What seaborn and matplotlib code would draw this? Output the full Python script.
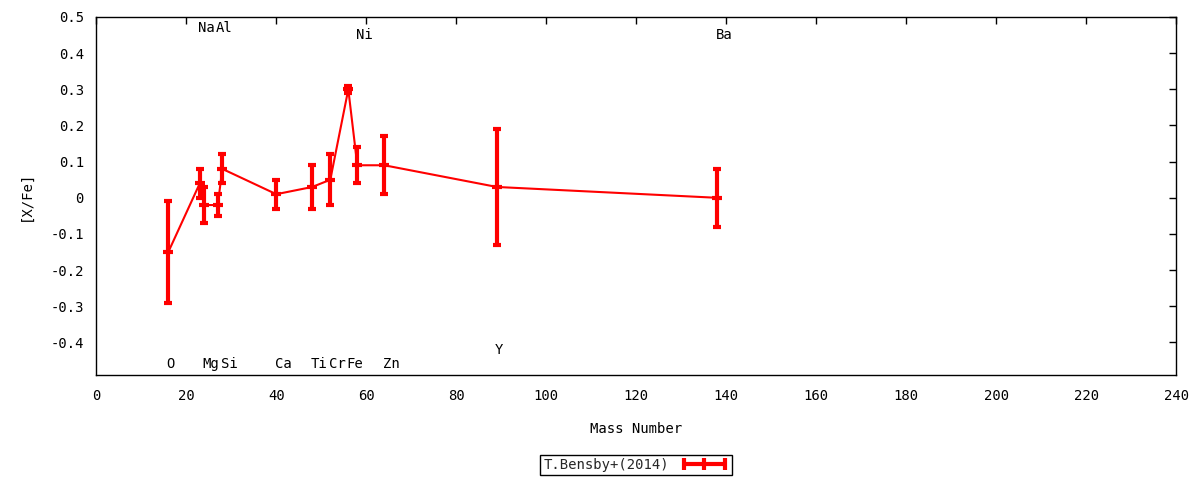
"""
[X/Fe] vs mass number, T.Bensby+(2014)
"""

import matplotlib
matplotlib.use("Agg")
import matplotlib.pyplot as plt
from matplotlib.lines import Line2D
from matplotlib.ticker import FuncFormatter, MultipleLocator
import pandas as pd
import seaborn as sns

# Data
elements = ['O', 'Na', 'Mg', 'Al', 'Si', 'Ca', 'Ti', 'Cr', 'Fe', 'Ni', 'Zn', 'Y', 'Ba']
mass_number = [16, 23, 24, 27, 28, 40, 48, 52, 56, 58, 64, 89, 138]
x_fe = [-0.15, 0.04, -0.02, -0.02, 0.08, 0.01, 0.03, 0.05, 0.30, 0.09, 0.09, 0.03, 0.00]
x_fe_err = [0.14, 0.04, 0.05, 0.03, 0.04, 0.04, 0.06, 0.07, 0.01, 0.05, 0.08, 0.16, 0.08]
label_y = [-0.46, 0.47, -0.46, 0.47, -0.46, -0.46, -0.46, -0.46, -0.46, 0.45, -0.46, -0.42, 0.45]
series_name = 'T.Bensby+(2014)'

df = pd.DataFrame({'mass': mass_number, 'xfe': x_fe, 'err': x_fe_err})

sns.set_style("white")
plt.rcParams['font.family'] = ['DejaVu Sans Mono', 'DejaVu Sans']
plt.rcParams['font.size'] = 10

fig = plt.figure(figsize=(12, 4.8), dpi=100)
ax = fig.add_axes([96.3 / 1200, 1 - 375 / 480, 1080 / 1200, 358 / 480])

# connecting line
sns.lineplot(data=df, x='mass', y='xfe', color='red', linewidth=1.5,
             sort=False, estimator=None, ax=ax, legend=False)
# error bars
ax.errorbar(df['mass'], df['xfe'], yerr=df['err'], fmt='none', ecolor='red',
            elinewidth=3, capsize=3, capthick=3)
# centre ticks
ax.plot(df['mass'], df['xfe'], linestyle='none', marker='_', color='red',
        markersize=7, markeredgewidth=3)

# element labels
for el, m, ly in zip(elements, mass_number, label_y):
    ax.text(m - 0.4, ly, el, ha='left', va='center', fontsize=10, color='black')

ax.set_xlim(0, 240)
ax.set_ylim(-0.49, 0.5)
ax.xaxis.set_major_locator(MultipleLocator(20))
ax.yaxis.set_major_locator(MultipleLocator(0.1))
ax.yaxis.set_major_formatter(FuncFormatter(lambda v, p: '%g' % round(v, 2)))
ax.xaxis.set_major_formatter(FuncFormatter(lambda v, p: '%g' % v))
ax.tick_params(direction='in', length=5, width=1, color='black',
               top=True, right=True, labelsize=10, labelcolor='black')
ax.tick_params(axis='x', pad=10)
ax.tick_params(axis='y', pad=9)
for s in ax.spines.values():
    s.set_visible(True)
    s.set_color('black')
    s.set_linewidth(1)

ax.set_xlabel('Mass Number', fontsize=10, labelpad=14, color='black')
ax.set_ylabel('[X/Fe]', fontsize=10, labelpad=13, color='black')

handle = Line2D([], [], color='red', linewidth=3, marker='|',
                markersize=9, markeredgewidth=3)
leg = fig.legend([handle], [series_name], loc='center',
                 bbox_to_anchor=(636 / 1200, 1 - 465 / 480),
                 markerfirst=False, numpoints=3, fancybox=False, framealpha=1,
                 edgecolor='black', fontsize=10, handlelength=3.5,
                 borderpad=0.25, handletextpad=0.8, borderaxespad=0)
leg.get_frame().set_linewidth(1)

fig.savefig('out.png', dpi=100)
